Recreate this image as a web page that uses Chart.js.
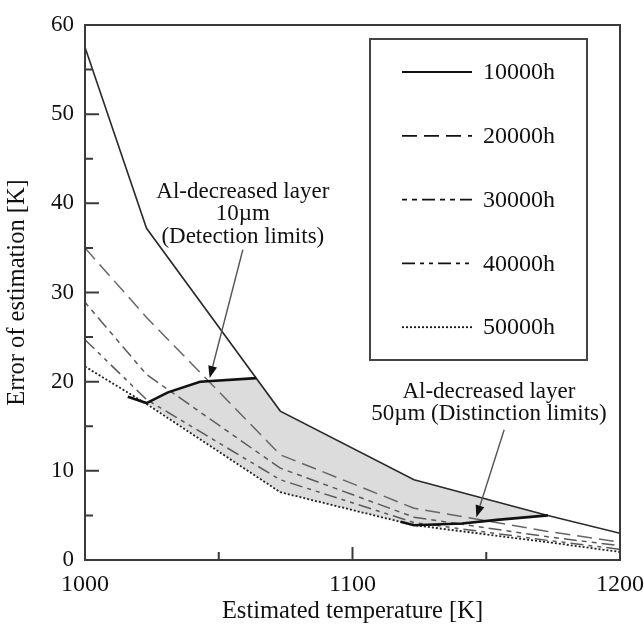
<!DOCTYPE html>
<html>
<head>
<meta charset="utf-8">
<title>Error of estimation</title>
<script src="https://cdn.jsdelivr.net/npm/chart.js@4.4.1/dist/chart.umd.min.js"></script>
<style>
  html, body { margin: 0; padding: 0; background: #fff; }
  #wrap { width: 644px; height: 626px; }
</style>
</head>
<body>
<div id="wrap"><canvas id="chart" width="644" height="626"></canvas></div>
<script>
// Estimated temperature [K] where the curves were computed
const temps = [1000, 1023, 1073, 1123, 1173, 1200];

// Error of estimation [K] for each operating time
const err10000 = [57.5, 37.2, 16.7, 9.0, 5.0, 3.0];
const err20000 = [35.0, 27.2, 11.8, 5.8, 3.2, 2.0];
const err30000 = [28.9, 20.8, 10.3, 4.8, 2.6, 1.6];
const err40000 = [24.7, 18.0, 9.0, 4.2, 2.2, 1.2];
const err50000 = [21.7, 17.5, 7.6, 3.9, 2.0, 0.9];

// Al-decreased layer limits (thick lines)
const limit10Temps = [1016, 1023, 1031, 1043, 1064];
const limit10Err = [18.3, 17.6, 18.8, 20.0, 20.4];
const limit50Temps = [1118, 1123, 1141, 1154, 1173];
const limit50Err = [4.3, 3.9, 4.1, 4.5, 5.0];

const seriesLabels = ['10000h', '20000h', '30000h', '40000h', '50000h'];
const xTicks = [1000, 1100, 1200];
const yTicks = [0, 10, 20, 30, 40, 50, 60];

function pts(xs, ys) {
    return xs.map((x, i) => ({ x: x, y: ys[i] }));
}

// grey region between the two limit lines
const shadePts = [
    ...pts(limit10Temps, limit10Err).slice(1),
    ...pts(temps, err10000).filter(p => p.x > 1064 && p.x < 1173),
    ...pts(limit50Temps, limit50Err).reverse().filter(p => p.x >= 1123),
    ...pts(temps, err50000).filter(p => p.x > 1023 && p.x < 1123).reverse()
];

const FONT = "'Liberation Serif', 'Times New Roman', serif";
const INK = '#111';
Chart.defaults.font.family = FONT;
Chart.defaults.color = INK;

// ticks pointing into the plot, longer at labelled values
const innerTicks = {
    id: 'innerTicks',
    afterDatasetsDraw(chart) {
        const { ctx, chartArea: a, scales: { x, y } } = chart;
        ctx.save();
        ctx.strokeStyle = '#3a3a3a';
        ctx.lineWidth = 2;
        ctx.beginPath();
        x.ticks.forEach(t => {
            if (t.value <= x.min || t.value >= x.max) return;
            const px = x.getPixelForValue(t.value);
            const len = xTicks.includes(t.value) ? 13 : 8;
            ctx.moveTo(px, a.bottom);
            ctx.lineTo(px, a.bottom - len);
        });
        y.ticks.forEach(t => {
            if (t.value <= y.min || t.value >= y.max) return;
            const py = y.getPixelForValue(t.value);
            const len = yTicks.includes(t.value) ? 14 : 8;
            ctx.moveTo(a.left, py);
            ctx.lineTo(a.left + len, py);
        });
        ctx.stroke();
        ctx.strokeRect(a.left, a.top, a.right - a.left, a.bottom - a.top);
        ctx.restore();
    }
};

// boxed legend inside the plot
const legendBox = {
    id: 'legendBox',
    afterDatasetsDraw(chart) {
        const ctx = chart.ctx;
        const box = { left: 370, top: 39, right: 587, bottom: 360 };
        ctx.save();
        ctx.fillStyle = '#fff';
        ctx.fillRect(box.left, box.top, box.right - box.left, box.bottom - box.top);
        ctx.strokeStyle = '#444';
        ctx.lineWidth = 2;
        ctx.strokeRect(box.left, box.top, box.right - box.left, box.bottom - box.top);
        const items = chart.data.datasets.filter(d => d.inLegend);
        items.forEach((d, i) => {
            const yy = 72 + i * 63.8;
            ctx.beginPath();
            ctx.setLineDash(d.borderDash || []);
            ctx.strokeStyle = '#111';
            ctx.lineWidth = 1.8;
            ctx.moveTo(402, yy);
            ctx.lineTo(472, yy);
            ctx.stroke();
            ctx.setLineDash([]);
            ctx.fillStyle = INK;
            ctx.font = '24px ' + FONT;
            ctx.textAlign = 'left';
            ctx.textBaseline = 'middle';
            ctx.fillText(d.label, 483, yy + 1);
        });
        ctx.restore();
    }
};

const notes = [
    { lines: ['Al-decreased layer', '10\u00b5m', '(Detection limits)'],
      at: { x: 1059, y: 41.3 }, tail: { x: 1059, y: 34.8 }, tip: { x: 1046.6, y: 20.4 } },
    { lines: ['Al-decreased layer', '50\u00b5m (Distinction limits)'],
      at: { x: 1151, y: 18.9 }, tail: { x: 1156.7, y: 14.6 }, tip: { x: 1146.3, y: 4.8 } }
];

const annotate = {
    id: 'annotate',
    afterDatasetsDraw(chart) {
        const { ctx, scales: { x, y } } = chart;
        ctx.save();
        ctx.font = '23px ' + FONT;
        ctx.textAlign = 'center';
        ctx.textBaseline = 'middle';
        notes.forEach(n => {
            const cx = x.getPixelForValue(n.at.x);
            const cy = y.getPixelForValue(n.at.y);
            ctx.fillStyle = INK;
            n.lines.forEach((s, i) => ctx.fillText(s, cx, cy + i * 22.5));

            const x1 = x.getPixelForValue(n.tail.x), y1 = y.getPixelForValue(n.tail.y);
            const x2 = x.getPixelForValue(n.tip.x), y2 = y.getPixelForValue(n.tip.y);
            const ang = Math.atan2(y2 - y1, x2 - x1);
            const hl = 12, hw = 4.5;
            const bx = x2 - hl * Math.cos(ang), by = y2 - hl * Math.sin(ang);
            ctx.beginPath();
            ctx.strokeStyle = '#555';
            ctx.lineWidth = 1.4;
            ctx.moveTo(x1, y1);
            ctx.lineTo(bx, by);
            ctx.stroke();
            ctx.beginPath();
            ctx.fillStyle = '#111';
            ctx.moveTo(x2, y2);
            ctx.lineTo(bx + hw * Math.sin(ang), by - hw * Math.cos(ang));
            ctx.lineTo(bx - hw * Math.sin(ang), by + hw * Math.cos(ang));
            ctx.closePath();
            ctx.fill();
        });
        ctx.restore();
    }
};

function lineSet(label, ys, color, width, dash, legend) {
    return {
        label: label,
        data: pts(temps, ys),
        borderColor: color,
        borderWidth: width,
        borderDash: dash,
        pointRadius: 0,
        showLine: true,
        fill: false,
        inLegend: legend,
        order: 2
    };
}

new Chart(document.getElementById('chart'), {
    type: 'scatter',
    data: {
        datasets: [
            {
                label: 'limit 10um',
                data: pts(limit10Temps, limit10Err),
                borderColor: '#111', borderWidth: 2.6, pointRadius: 0, showLine: true, order: 1
            },
            {
                label: 'limit 50um',
                data: pts(limit50Temps, limit50Err),
                borderColor: '#111', borderWidth: 2.6, pointRadius: 0, showLine: true, order: 1
            },
            lineSet(seriesLabels[0], err10000, '#2a2a2a', 1.6, [], true),
            lineSet(seriesLabels[1], err20000, '#666', 1.5, [15, 7], true),
            lineSet(seriesLabels[2], err30000, '#5a5a5a', 1.5, [5, 5, 5, 5, 13, 5], true),
            lineSet(seriesLabels[3], err40000, '#5a5a5a', 1.5, [13, 5, 4, 5, 4, 5], true),
            lineSet(seriesLabels[4], err50000, '#222', 1.8, [2, 2], true),
            {
                label: 'shade',
                data: shadePts,
                showLine: true,
                borderWidth: 0,
                borderColor: 'rgba(0,0,0,0)',
                backgroundColor: '#dcdcdc',
                pointRadius: 0,
                fill: 'shape',
                order: 5
            }
        ]
    },
    options: {
        responsive: false,
        animation: false,
        layout: { padding: { left: 0, top: 25, right: 24, bottom: 0 } },
        plugins: {
            legend: { display: false },
            tooltip: { enabled: false }
        },
        scales: {
            x: {
                type: 'linear',
                min: 1000,
                max: 1200,
                grid: { display: false, drawTicks: false },
                border: { display: false },
                afterFit: s => { s.height = 66; s.paddingRight = 24; s.paddingLeft = 0; },
                ticks: {
                    stepSize: 50,
                    padding: 10,
                    font: { size: 24 },
                    color: INK,
                    maxRotation: 0,
                    callback: v => xTicks.includes(v) ? String(v) : ''
                },
                title: {
                    display: true,
                    text: 'Estimated temperature [K]',
                    font: { size: 24.5 },
                    color: INK,
                    padding: { top: 0, bottom: 0 }
                }
            },
            y: {
                min: 0,
                max: 60,
                grid: { display: false, drawTicks: false },
                border: { display: false },
                afterFit: s => { s.width = 85; },
                ticks: {
                    stepSize: 5,
                    padding: 11,
                    font: { size: 23 },
                    color: INK,
                    callback: v => yTicks.includes(v) ? String(v) : ''
                },
                title: {
                    display: true,
                    text: 'Error of estimation [K]',
                    font: { size: 24.5 },
                    color: INK,
                    padding: { top: 3, bottom: 0 }
                }
            }
        }
    },
    plugins: [innerTicks, legendBox, annotate]
});
</script>
</body>
</html>
